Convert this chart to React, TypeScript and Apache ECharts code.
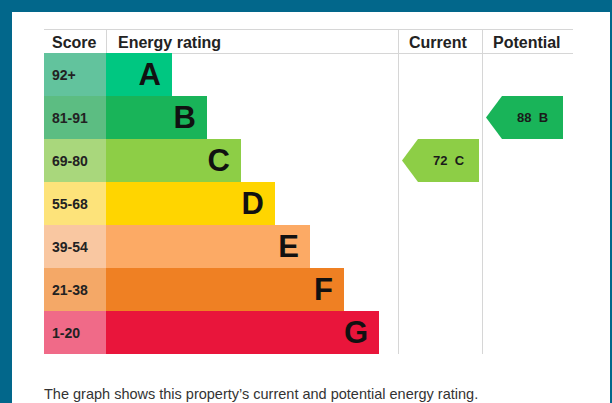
import React, { useEffect, useRef } from "react";
import * as echarts from "echarts";

const ratings = ["A", "B", "C", "D", "E", "F", "G"];
const scoreBands = ["92+", "81-91", "69-80", "55-68", "39-54", "21-38", "1-20"];
const bandMins = [92, 81, 69, 55, 39, 21, 1];
const barLengths = [66, 101, 135, 169, 204, 238, 273];
const barColors = ["#00c781", "#19b459", "#8dce46", "#ffd500", "#fcaa65", "#ef8023", "#e9153b"];
const scoreColors = ["#62c39d", "#5cbd82", "#a9d77c", "#fde37a", "#f9c7a1", "#f4a867", "#f06a88"];
const columns = ["Current", "Potential"];
const scores = [72, 88];
const headers = ["Score", "Energy rating", "Current", "Potential"];
const caption = "The graph shows this property\u2019s current and potential energy rating.";

const FONT = "'Liberation Sans', Arial, Helvetica, sans-serif";

function bandIndex(score: number): number {
  return bandMins.findIndex((m) => score >= m);
}

export default function App() {
  const ref = useRef<HTMLDivElement>(null);

  useEffect(() => {
    document.body.style.margin = "0";
    const chart = echarts.init(ref.current!, null, { renderer: "svg" });

    const arrowData = scores.map((s, i) => {
      const b = bandIndex(s);
      return [i, b, s, ratings[b]];
    });

    const lineStyle = { stroke: "#d6d6d6", lineWidth: 1 };
    const headerX = [52, 118, 409, 493];

    const option: any = {
      animation: false,
      backgroundColor: "#02678b",
      textStyle: { fontFamily: FONT },
      graphic: [
        { type: "rect", z: -10, shape: { x: 12, y: 12, width: 598, height: 400 }, style: { fill: "#ffffff" } },
        { type: "line", shape: { x1: 44, y1: 29.5, x2: 573, y2: 29.5 }, style: lineStyle },
        { type: "line", shape: { x1: 44, y1: 53.5, x2: 573, y2: 53.5 }, style: lineStyle },
        { type: "line", shape: { x1: 106.5, y1: 29, x2: 106.5, y2: 53 }, style: lineStyle },
        { type: "line", shape: { x1: 398.5, y1: 29, x2: 398.5, y2: 354 }, style: lineStyle },
        { type: "line", shape: { x1: 482.5, y1: 29, x2: 482.5, y2: 354 }, style: lineStyle },
        ...headers.map((h, i) => ({
          type: "text",
          x: headerX[i],
          y: 42,
          style: {
            text: h,
            fill: "#222222",
            font: `bold 16px ${FONT}`,
            verticalAlign: "middle",
            align: "left",
          },
        })),
        {
          type: "text",
          x: 44,
          y: 394,
          style: {
            text: caption,
            fill: "#333333",
            font: `14.5px ${FONT}`,
            verticalAlign: "middle",
            align: "left",
          },
        },
      ],
      grid: [
        { left: 44, width: 62, top: 53, height: 301 },
        { left: 106, width: 292, top: 53, height: 301 },
        { left: 398, width: 168, top: 53, height: 301 },
      ],
      xAxis: [
        { gridIndex: 0, type: "value", min: 0, max: 1, show: false },
        { gridIndex: 1, type: "value", min: 0, max: 292, show: false },
        { gridIndex: 2, type: "category", data: columns, show: false },
      ],
      yAxis: [0, 1, 2].map((g) => ({
        gridIndex: g,
        type: "category",
        data: ratings,
        inverse: true,
        show: false,
      })),
      series: [
        {
          type: "bar",
          xAxisIndex: 0,
          yAxisIndex: 0,
          barCategoryGap: "0%",
          data: scoreBands.map((s, i) => ({ value: 1, itemStyle: { color: scoreColors[i] } })),
          label: {
            show: true,
            position: "insideLeft",
            distance: 8,
            formatter: (p: any) => scoreBands[p.dataIndex],
            fontSize: 14,
            fontWeight: "bold",
            color: "#222222",
            fontFamily: FONT,
          },
        },
        {
          type: "bar",
          xAxisIndex: 1,
          yAxisIndex: 1,
          barCategoryGap: "0%",
          data: barLengths.map((v, i) => ({ value: v, itemStyle: { color: barColors[i] } })),
          label: {
            show: true,
            position: "insideRight",
            distance: 11,
            formatter: (p: any) => ratings[p.dataIndex],
            fontSize: 31,
            fontWeight: "bold",
            color: "#111111",
            fontFamily: FONT,
          },
        },
        {
          type: "custom",
          xAxisIndex: 2,
          yAxisIndex: 2,
          data: arrowData,
          renderItem: (params: any, api: any) => {
            const c = api.coord([api.value(0), api.value(1)]);
            const size = api.size([1, 1]);
            const w = size[0];
            const h = size[1];
            const left = c[0] - w / 2 + 4;
            const right = c[0] + w / 2 - 3;
            const top = c[1] - h / 2;
            const bottom = c[1] + h / 2;
            const tip = 16;
            const b = api.value(1);
            return {
              type: "group",
              children: [
                {
                  type: "polygon",
                  shape: {
                    points: [
                      [left, c[1]],
                      [left + tip, top],
                      [right, top],
                      [right, bottom],
                      [left + tip, bottom],
                    ],
                  },
                  style: { fill: barColors[b] },
                },
                {
                  type: "text",
                  style: {
                    text: `${api.value(2)}  ${ratings[b]}`,
                    x: (left + tip + right) / 2,
                    y: c[1],
                    align: "center",
                    verticalAlign: "middle",
                    fill: "#1a1a1a",
                    font: `bold 13px ${FONT}`,
                  },
                },
              ],
            };
          },
        },
      ],
    };

    chart.setOption(option);
    return () => chart.dispose();
  }, []);

  return (
    <div
      ref={ref}
      style={{ position: "absolute", left: 0, top: 0, width: 612, height: 403 }}
    />
  );
}
